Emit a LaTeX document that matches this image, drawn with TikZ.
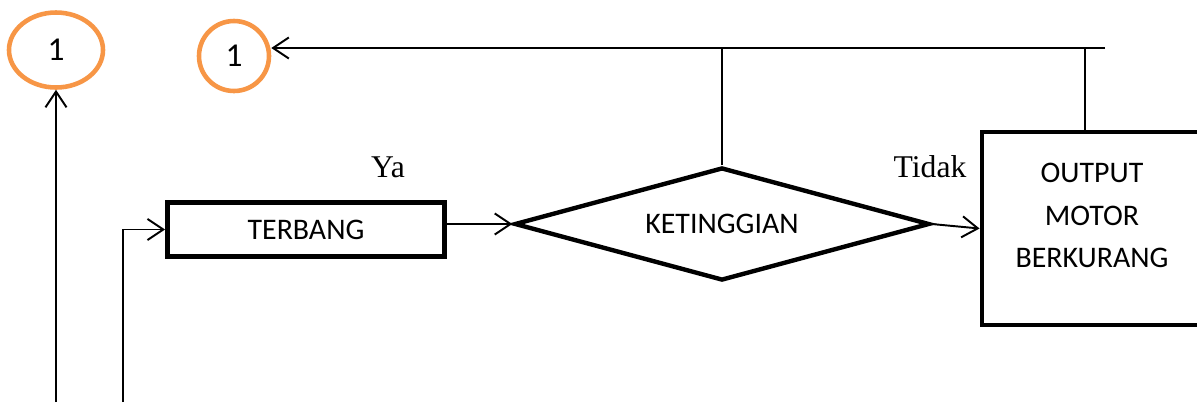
\documentclass[tikz,border=0pt]{standalone}
\usepackage{fontspec}
\setmainfont{Carlito}
\newfontfamily\timesfont{Liberation Serif}
\usetikzlibrary{shapes.geometric,arrows.meta}
\definecolor{oranye}{RGB}{247,150,70}

\begin{document}
\begin{tikzpicture}[
  proses/.style={draw, line width=2.8pt, rectangle, align=center, font=\fontsize{17}{24}\selectfont},
  keputusan/.style={draw, line width=2.5pt, diamond, shape aspect=3.7, minimum width=8.3cm, minimum height=2.26cm, inner sep=0pt, font=\fontsize{17}{24}\selectfont},
  konektor/.style={draw=oranye, line width=2.6pt, font=\fontsize{19}{20}\selectfont},
  alur/.style={line width=1.1pt, -{Straight Barb[length=9pt,width=12pt]}},
  garis/.style={line width=1.1pt},
  ket/.style={font=\timesfont\fontsize{18}{20}\selectfont}]
\clip (0,0) rectangle (23.94,-8.04);

% penghubung halaman
\node[konektor, ellipse, minimum width=1.88cm, minimum height=1.5cm] (c1) at (1.12,-1.0) {1};
\node[konektor, circle, minimum size=1.4cm, inner sep=0pt] (c2) at (4.68,-1.12) {1};

\node[proses, minimum width=5.54cm, minimum height=1.08cm] (terbang) at (6.12,-4.59) {TERBANG};
\node[keputusan] (tinggi) at (14.44,-4.48) {KETINGGIAN};
\node[proses, minimum width=4.4cm, minimum height=3.86cm] (output) at (21.84,-4.57) {OUTPUT\\MOTOR\\BERKURANG\\[-9pt]\mbox{}};

\node[ket] (ya) at (7.76,-3.34) {Ya};
\node[ket] (tidak) at (18.6,-3.34) {Tidak};

\coordinate (atas) at (22.1,-0.96);
\coordinate (j2) at (21.7,-0.96);
\coordinate (b1) at (1.12,-8.04);
\coordinate (b2) at (2.46,-8.04);

\draw[alur] (b1) -- (c1.south);
\draw[alur] (b2) |- (terbang.west);
\draw[alur] (terbang.east |- tinggi.west) -- (tinggi.west);
\draw[alur] (tinggi.east) -- (output.west);

% jalur kembali ke atas
\draw[alur] (atas) -- (atas -| c2.east);
\draw[garis] (tinggi.north) -- (tinggi.north |- atas);
\draw[garis] (j2 |- output.north) -- (j2);
\end{tikzpicture}
\end{document}
